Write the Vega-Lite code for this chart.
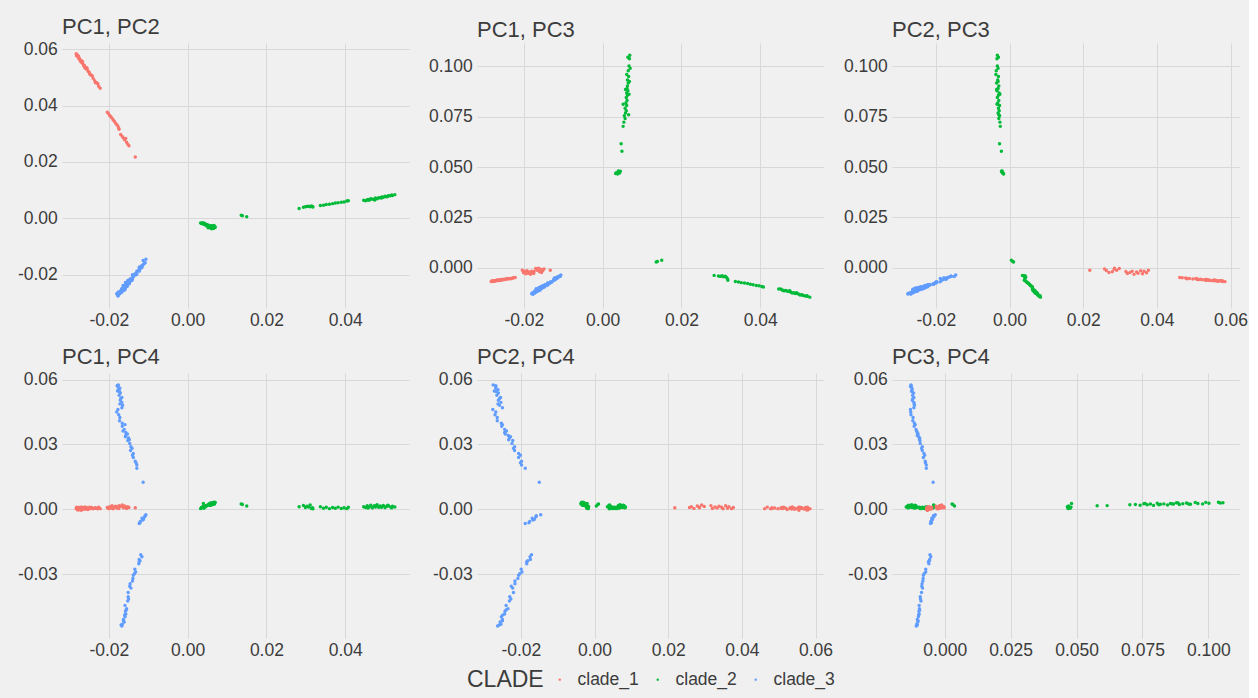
{
  "$schema": "https://vega.github.io/schema/vega-lite/v6.json",
  "background": "#F0F0F0",
  "padding": {"left": 17, "top": 15, "right": 1, "bottom": 8},
  "columns": 3,
  "spacing": {"row": 65, "column": 68},
  "bounds": "flush",
  "data": {
    "values": [
      {"CLADE": "clade_2", "PC1": 0.0033, "PC2": -0.0017, "PC3": 0.0468, "PC4": 0.0003},
      {"CLADE": "clade_2", "PC1": 0.0035, "PC2": -0.0019, "PC3": 0.0472, "PC4": 0.0008},
      {"CLADE": "clade_2", "PC1": 0.0038, "PC2": -0.0016, "PC3": 0.0465, "PC4": 0.0012},
      {"CLADE": "clade_2", "PC1": 0.0041, "PC2": -0.0021, "PC3": 0.0476, "PC4": 0.0005},
      {"CLADE": "clade_2", "PC1": 0.0043, "PC2": -0.0018, "PC3": 0.0470, "PC4": 0.0015},
      {"CLADE": "clade_2", "PC1": 0.0045, "PC2": -0.0022, "PC3": 0.0479, "PC4": 0.0010},
      {"CLADE": "clade_2", "PC1": 0.0040, "PC2": -0.0020, "PC3": 0.0481, "PC4": 0.0027},
      {"CLADE": "clade_2", "PC1": 0.0047, "PC2": -0.0027, "PC3": 0.0616, "PC4": 0.0017},
      {"CLADE": "clade_2", "PC1": 0.0049, "PC2": -0.0022, "PC3": 0.0578, "PC4": 0.0016},
      {"CLADE": "clade_2", "PC1": 0.0052, "PC2": -0.0025, "PC3": 0.0702, "PC4": 0.0021},
      {"CLADE": "clade_2", "PC1": 0.0054, "PC2": -0.0026, "PC3": 0.0723, "PC4": 0.0022},
      {"CLADE": "clade_2", "PC1": 0.0057, "PC2": -0.0029, "PC3": 0.0741, "PC4": 0.0019},
      {"CLADE": "clade_2", "PC1": 0.0055, "PC2": -0.0027, "PC3": 0.0755, "PC4": 0.0026},
      {"CLADE": "clade_2", "PC1": 0.0058, "PC2": -0.0031, "PC3": 0.0768, "PC4": 0.0021},
      {"CLADE": "clade_2", "PC1": 0.0060, "PC2": -0.0028, "PC3": 0.0780, "PC4": 0.0024},
      {"CLADE": "clade_2", "PC1": 0.0057, "PC2": -0.0030, "PC3": 0.0792, "PC4": 0.0018},
      {"CLADE": "clade_2", "PC1": 0.0061, "PC2": -0.0027, "PC3": 0.0806, "PC4": 0.0028},
      {"CLADE": "clade_2", "PC1": 0.0059, "PC2": -0.0032, "PC3": 0.0818, "PC4": 0.0023},
      {"CLADE": "clade_2", "PC1": 0.0062, "PC2": -0.0029, "PC3": 0.0831, "PC4": 0.0025},
      {"CLADE": "clade_2", "PC1": 0.0060, "PC2": -0.0033, "PC3": 0.0845, "PC4": 0.0020},
      {"CLADE": "clade_2", "PC1": 0.0063, "PC2": -0.0030, "PC3": 0.0856, "PC4": 0.0027},
      {"CLADE": "clade_2", "PC1": 0.0061, "PC2": -0.0028, "PC3": 0.0868, "PC4": 0.0024},
      {"CLADE": "clade_2", "PC1": 0.0064, "PC2": -0.0034, "PC3": 0.0879, "PC4": 0.0030},
      {"CLADE": "clade_2", "PC1": 0.0062, "PC2": -0.0031, "PC3": 0.0890, "PC4": 0.0022},
      {"CLADE": "clade_2", "PC1": 0.0063, "PC2": -0.0029, "PC3": 0.0903, "PC4": 0.0026},
      {"CLADE": "clade_2", "PC1": 0.0065, "PC2": -0.0035, "PC3": 0.0917, "PC4": 0.0029},
      {"CLADE": "clade_2", "PC1": 0.0063, "PC2": -0.0032, "PC3": 0.0932, "PC4": 0.0023},
      {"CLADE": "clade_2", "PC1": 0.0066, "PC2": -0.0030, "PC3": 0.0950, "PC4": 0.0031},
      {"CLADE": "clade_2", "PC1": 0.0065, "PC2": -0.0036, "PC3": 0.0978, "PC4": 0.0025},
      {"CLADE": "clade_2", "PC1": 0.0067, "PC2": -0.0033, "PC3": 0.1002, "PC4": 0.0028},
      {"CLADE": "clade_2", "PC1": 0.0068, "PC2": -0.0034, "PC3": 0.1038, "PC4": 0.0033},
      {"CLADE": "clade_2", "PC1": 0.0069, "PC2": -0.0033, "PC3": 0.1055, "PC4": 0.0030},
      {"CLADE": "clade_2", "PC1": 0.0066, "PC2": -0.0029, "PC3": 0.0760, "PC4": 0.0027},
      {"CLADE": "clade_2", "PC1": 0.0052, "PC2": -0.0034, "PC3": 0.0812, "PC4": 0.0021},
      {"CLADE": "clade_2", "PC1": 0.0067, "PC2": -0.0026, "PC3": 0.0862, "PC4": 0.0025},
      {"CLADE": "clade_2", "PC1": 0.0058, "PC2": -0.0035, "PC3": 0.0885, "PC4": 0.0029},
      {"CLADE": "clade_2", "PC1": 0.0068, "PC2": -0.0031, "PC3": 0.0925, "PC4": 0.0024},
      {"CLADE": "clade_2", "PC1": 0.0061, "PC2": -0.0037, "PC3": 0.0960, "PC4": 0.0027},
      {"CLADE": "clade_2", "PC1": 0.0070, "PC2": -0.0031, "PC3": 0.0990, "PC4": 0.0032},
      {"CLADE": "clade_2", "PC1": 0.0064, "PC2": -0.0030, "PC3": 0.1045, "PC4": 0.0029},
      {"CLADE": "clade_2", "PC1": 0.0136, "PC2": 0.0011, "PC3": 0.0028, "PC4": 0.0025},
      {"CLADE": "clade_2", "PC1": 0.0139, "PC2": 0.0009, "PC3": 0.0031, "PC4": 0.0022},
      {"CLADE": "clade_2", "PC1": 0.0150, "PC2": 0.0005, "PC3": 0.0037, "PC4": 0.0015},
      {"CLADE": "clade_2", "PC1": 0.0283, "PC2": 0.0035, "PC3": -0.0038, "PC4": 0.0012},
      {"CLADE": "clade_2", "PC1": 0.0294, "PC2": 0.0039, "PC3": -0.0041, "PC4": 0.0018},
      {"CLADE": "clade_2", "PC1": 0.0299, "PC2": 0.0041, "PC3": -0.0043, "PC4": 0.0008},
      {"CLADE": "clade_2", "PC1": 0.0303, "PC2": 0.0042, "PC3": -0.0040, "PC4": 0.0014},
      {"CLADE": "clade_2", "PC1": 0.0307, "PC2": 0.0043, "PC3": -0.0045, "PC4": 0.0010},
      {"CLADE": "clade_2", "PC1": 0.0311, "PC2": 0.0041, "PC3": -0.0042, "PC4": 0.0020},
      {"CLADE": "clade_2", "PC1": 0.0314, "PC2": 0.0044, "PC3": -0.0047, "PC4": 0.0004},
      {"CLADE": "clade_2", "PC1": 0.0317, "PC2": 0.0042, "PC3": -0.0055, "PC4": 0.0007},
      {"CLADE": "clade_2", "PC1": 0.0318, "PC2": 0.0040, "PC3": -0.0062, "PC4": 0.0002},
      {"CLADE": "clade_2", "PC1": 0.0337, "PC2": 0.0045, "PC3": -0.0068, "PC4": 0.0012},
      {"CLADE": "clade_2", "PC1": 0.0345, "PC2": 0.0046, "PC3": -0.0071, "PC4": 0.0005},
      {"CLADE": "clade_2", "PC1": 0.0352, "PC2": 0.0049, "PC3": -0.0074, "PC4": 0.0009},
      {"CLADE": "clade_2", "PC1": 0.0360, "PC2": 0.0050, "PC3": -0.0076, "PC4": 0.0003},
      {"CLADE": "clade_2", "PC1": 0.0368, "PC2": 0.0052, "PC3": -0.0078, "PC4": 0.0008},
      {"CLADE": "clade_2", "PC1": 0.0375, "PC2": 0.0054, "PC3": -0.0082, "PC4": 0.0005},
      {"CLADE": "clade_2", "PC1": 0.0382, "PC2": 0.0055, "PC3": -0.0085, "PC4": 0.0010},
      {"CLADE": "clade_2", "PC1": 0.0390, "PC2": 0.0057, "PC3": -0.0088, "PC4": 0.0004},
      {"CLADE": "clade_2", "PC1": 0.0397, "PC2": 0.0058, "PC3": -0.0090, "PC4": 0.0007},
      {"CLADE": "clade_2", "PC1": 0.0404, "PC2": 0.0061, "PC3": -0.0093, "PC4": 0.0003},
      {"CLADE": "clade_2", "PC1": 0.0408, "PC2": 0.0062, "PC3": -0.0096, "PC4": 0.0009},
      {"CLADE": "clade_2", "PC1": 0.0447, "PC2": 0.0064, "PC3": -0.0106, "PC4": 0.0012},
      {"CLADE": "clade_2", "PC1": 0.0452, "PC2": 0.0062, "PC3": -0.0106, "PC4": 0.0008},
      {"CLADE": "clade_2", "PC1": 0.0456, "PC2": 0.0065, "PC3": -0.0110, "PC4": 0.0016},
      {"CLADE": "clade_2", "PC1": 0.0461, "PC2": 0.0064, "PC3": -0.0114, "PC4": 0.0010},
      {"CLADE": "clade_2", "PC1": 0.0465, "PC2": 0.0069, "PC3": -0.0113, "PC4": 0.0019},
      {"CLADE": "clade_2", "PC1": 0.0469, "PC2": 0.0068, "PC3": -0.0117, "PC4": 0.0007},
      {"CLADE": "clade_2", "PC1": 0.0473, "PC2": 0.0068, "PC3": -0.0117, "PC4": 0.0014},
      {"CLADE": "clade_2", "PC1": 0.0477, "PC2": 0.0072, "PC3": -0.0121, "PC4": 0.0011},
      {"CLADE": "clade_2", "PC1": 0.0481, "PC2": 0.0069, "PC3": -0.0125, "PC4": 0.0021},
      {"CLADE": "clade_2", "PC1": 0.0485, "PC2": 0.0073, "PC3": -0.0124, "PC4": 0.0009},
      {"CLADE": "clade_2", "PC1": 0.0489, "PC2": 0.0073, "PC3": -0.0128, "PC4": 0.0015},
      {"CLADE": "clade_2", "PC1": 0.0493, "PC2": 0.0076, "PC3": -0.0127, "PC4": 0.0012},
      {"CLADE": "clade_2", "PC1": 0.0497, "PC2": 0.0075, "PC3": -0.0131, "PC4": 0.0018},
      {"CLADE": "clade_2", "PC1": 0.0501, "PC2": 0.0078, "PC3": -0.0135, "PC4": 0.0008},
      {"CLADE": "clade_2", "PC1": 0.0505, "PC2": 0.0076, "PC3": -0.0134, "PC4": 0.0013},
      {"CLADE": "clade_2", "PC1": 0.0510, "PC2": 0.0080, "PC3": -0.0138, "PC4": 0.0016},
      {"CLADE": "clade_2", "PC1": 0.0515, "PC2": 0.0080, "PC3": -0.0141, "PC4": 0.0010},
      {"CLADE": "clade_2", "PC1": 0.0520, "PC2": 0.0081, "PC3": -0.0142, "PC4": 0.0014},
      {"CLADE": "clade_2", "PC1": 0.0526, "PC2": 0.0084, "PC3": -0.0146, "PC4": 0.0011},
      {"CLADE": "clade_2", "PC1": 0.0458, "PC2": 0.0067, "PC3": -0.0113, "PC4": 0.0006},
      {"CLADE": "clade_2", "PC1": 0.0475, "PC2": 0.0065, "PC3": -0.0114, "PC4": 0.0017},
      {"CLADE": "clade_2", "PC1": 0.0492, "PC2": 0.0072, "PC3": -0.0124, "PC4": 0.0009},
      {"CLADE": "clade_2", "PC1": 0.0508, "PC2": 0.0078, "PC3": -0.0137, "PC4": 0.0019},
      {"CLADE": "clade_2", "PC1": 0.0518, "PC2": 0.0083, "PC3": -0.0139, "PC4": 0.0007},
      {"CLADE": "clade_1", "PC1": -0.0283, "PC2": 0.0585, "PC3": -0.0069, "PC4": 0.0003},
      {"CLADE": "clade_1", "PC1": -0.0281, "PC2": 0.0578, "PC3": -0.0066, "PC4": 0.0006},
      {"CLADE": "clade_1", "PC1": -0.0280, "PC2": 0.0580, "PC3": -0.0068, "PC4": -0.0002},
      {"CLADE": "clade_1", "PC1": -0.0278, "PC2": 0.0573, "PC3": -0.0065, "PC4": 0.0008},
      {"CLADE": "clade_1", "PC1": -0.0276, "PC2": 0.0567, "PC3": -0.0067, "PC4": 0.0004},
      {"CLADE": "clade_1", "PC1": -0.0275, "PC2": 0.0569, "PC3": -0.0064, "PC4": 0.0001},
      {"CLADE": "clade_1", "PC1": -0.0273, "PC2": 0.0562, "PC3": -0.0066, "PC4": 0.0007},
      {"CLADE": "clade_1", "PC1": -0.0271, "PC2": 0.0562, "PC3": -0.0063, "PC4": 0.0005},
      {"CLADE": "clade_1", "PC1": -0.0270, "PC2": 0.0555, "PC3": -0.0065, "PC4": -0.0004},
      {"CLADE": "clade_1", "PC1": -0.0268, "PC2": 0.0554, "PC3": -0.0062, "PC4": 0.0009},
      {"CLADE": "clade_1", "PC1": -0.0266, "PC2": 0.0549, "PC3": -0.0064, "PC4": 0.0002},
      {"CLADE": "clade_1", "PC1": -0.0264, "PC2": 0.0542, "PC3": -0.0061, "PC4": 0.0006},
      {"CLADE": "clade_1", "PC1": -0.0262, "PC2": 0.0543, "PC3": -0.0063, "PC4": 0.0000},
      {"CLADE": "clade_1", "PC1": -0.0260, "PC2": 0.0537, "PC3": -0.0060, "PC4": 0.0011},
      {"CLADE": "clade_1", "PC1": -0.0258, "PC2": 0.0531, "PC3": -0.0062, "PC4": 0.0004},
      {"CLADE": "clade_1", "PC1": -0.0255, "PC2": 0.0531, "PC3": -0.0059, "PC4": 0.0007},
      {"CLADE": "clade_1", "PC1": -0.0253, "PC2": 0.0523, "PC3": -0.0060, "PC4": -0.0001},
      {"CLADE": "clade_1", "PC1": -0.0250, "PC2": 0.0519, "PC3": -0.0057, "PC4": 0.0005},
      {"CLADE": "clade_1", "PC1": -0.0247, "PC2": 0.0510, "PC3": -0.0058, "PC4": 0.0003},
      {"CLADE": "clade_1", "PC1": -0.0244, "PC2": 0.0508, "PC3": -0.0055, "PC4": 0.0008},
      {"CLADE": "clade_1", "PC1": -0.0240, "PC2": 0.0498, "PC3": -0.0056, "PC4": 0.0002},
      {"CLADE": "clade_1", "PC1": -0.0236, "PC2": 0.0489, "PC3": -0.0053, "PC4": 0.0006},
      {"CLADE": "clade_1", "PC1": -0.0231, "PC2": 0.0482, "PC3": -0.0054, "PC4": 0.0004},
      {"CLADE": "clade_1", "PC1": -0.0226, "PC2": 0.0469, "PC3": -0.0050, "PC4": 0.0010},
      {"CLADE": "clade_1", "PC1": -0.0222, "PC2": 0.0462, "PC3": -0.0049, "PC4": 0.0003},
      {"CLADE": "clade_1", "PC1": -0.0282, "PC2": 0.0578, "PC3": -0.0067, "PC4": 0.0009},
      {"CLADE": "clade_1", "PC1": -0.0277, "PC2": 0.0576, "PC3": -0.0066, "PC4": -0.0003},
      {"CLADE": "clade_1", "PC1": -0.0272, "PC2": 0.0558, "PC3": -0.0064, "PC4": 0.0010},
      {"CLADE": "clade_1", "PC1": -0.0267, "PC2": 0.0557, "PC3": -0.0061, "PC4": 0.0003},
      {"CLADE": "clade_1", "PC1": -0.0261, "PC2": 0.0535, "PC3": -0.0062, "PC4": 0.0008},
      {"CLADE": "clade_1", "PC1": -0.0256, "PC2": 0.0535, "PC3": -0.0058, "PC4": 0.0001},
      {"CLADE": "clade_1", "PC1": -0.0249, "PC2": 0.0514, "PC3": -0.0058, "PC4": 0.0009},
      {"CLADE": "clade_1", "PC1": -0.0242, "PC2": 0.0506, "PC3": -0.0054, "PC4": 0.0005},
      {"CLADE": "clade_1", "PC1": -0.0234, "PC2": 0.0482, "PC3": -0.0055, "PC4": 0.0007},
      {"CLADE": "clade_1", "PC1": -0.0228, "PC2": 0.0478, "PC3": -0.0051, "PC4": 0.0002},
      {"CLADE": "clade_1", "PC1": -0.0204, "PC2": 0.0377, "PC3": -0.0012, "PC4": 0.0008},
      {"CLADE": "clade_1", "PC1": -0.0201, "PC2": 0.0372, "PC3": -0.0025, "PC4": 0.0003},
      {"CLADE": "clade_1", "PC1": -0.0198, "PC2": 0.0365, "PC3": -0.0018, "PC4": 0.0012},
      {"CLADE": "clade_1", "PC1": -0.0195, "PC2": 0.0361, "PC3": -0.0030, "PC4": 0.0005},
      {"CLADE": "clade_1", "PC1": -0.0192, "PC2": 0.0356, "PC3": -0.0015, "PC4": 0.0016},
      {"CLADE": "clade_1", "PC1": -0.0189, "PC2": 0.0349, "PC3": -0.0027, "PC4": 0.0002},
      {"CLADE": "clade_1", "PC1": -0.0186, "PC2": 0.0345, "PC3": -0.0021, "PC4": 0.0009},
      {"CLADE": "clade_1", "PC1": -0.0183, "PC2": 0.0338, "PC3": -0.0033, "PC4": 0.0014},
      {"CLADE": "clade_1", "PC1": -0.0180, "PC2": 0.0333, "PC3": -0.0017, "PC4": 0.0006},
      {"CLADE": "clade_1", "PC1": -0.0177, "PC2": 0.0327, "PC3": -0.0024, "PC4": 0.0011},
      {"CLADE": "clade_1", "PC1": -0.0175, "PC2": 0.0320, "PC3": -0.0029, "PC4": 0.0004},
      {"CLADE": "clade_1", "PC1": -0.0174, "PC2": 0.0316, "PC3": -0.0019, "PC4": 0.0017},
      {"CLADE": "clade_1", "PC1": -0.0170, "PC2": 0.0298, "PC3": -0.0004, "PC4": 0.0013},
      {"CLADE": "clade_1", "PC1": -0.0166, "PC2": 0.0291, "PC3": -0.0012, "PC4": 0.0020},
      {"CLADE": "clade_1", "PC1": -0.0163, "PC2": 0.0285, "PC3": -0.0002, "PC4": 0.0007},
      {"CLADE": "clade_1", "PC1": -0.0160, "PC2": 0.0279, "PC3": -0.0020, "PC4": 0.0015},
      {"CLADE": "clade_1", "PC1": -0.0157, "PC2": 0.0284, "PC3": -0.0008, "PC4": 0.0010},
      {"CLADE": "clade_1", "PC1": -0.0155, "PC2": 0.0270, "PC3": -0.0024, "PC4": 0.0004},
      {"CLADE": "clade_1", "PC1": -0.0152, "PC2": 0.0263, "PC3": -0.0014, "PC4": 0.0012},
      {"CLADE": "clade_1", "PC1": -0.0149, "PC2": 0.0258, "PC3": -0.0006, "PC4": 0.0008},
      {"CLADE": "clade_1", "PC1": -0.0133, "PC2": 0.0218, "PC3": -0.0013, "PC4": 0.0007},
      {"CLADE": "clade_3", "PC1": -0.0176, "PC2": -0.0275, "PC3": -0.0128, "PC4": 0.0576},
      {"CLADE": "clade_3", "PC1": -0.0177, "PC2": -0.0268, "PC3": -0.0130, "PC4": 0.0568},
      {"CLADE": "clade_3", "PC1": -0.0172, "PC2": -0.0268, "PC3": -0.0124, "PC4": 0.0560},
      {"CLADE": "clade_3", "PC1": -0.0176, "PC2": -0.0262, "PC3": -0.0124, "PC4": 0.0553},
      {"CLADE": "clade_3", "PC1": -0.0173, "PC2": -0.0267, "PC3": -0.0125, "PC4": 0.0545},
      {"CLADE": "clade_3", "PC1": -0.0171, "PC2": -0.0261, "PC3": -0.0118, "PC4": 0.0538},
      {"CLADE": "clade_3", "PC1": -0.0174, "PC2": -0.0265, "PC3": -0.0122, "PC4": 0.0528},
      {"CLADE": "clade_3", "PC1": -0.0167, "PC2": -0.0255, "PC3": -0.0117, "PC4": 0.0518},
      {"CLADE": "clade_3", "PC1": -0.0171, "PC2": -0.0261, "PC3": -0.0123, "PC4": 0.0505},
      {"CLADE": "clade_3", "PC1": -0.0167, "PC2": -0.0254, "PC3": -0.0117, "PC4": 0.0495},
      {"CLADE": "clade_3", "PC1": -0.0165, "PC2": -0.0258, "PC3": -0.0115, "PC4": 0.0482},
      {"CLADE": "clade_3", "PC1": -0.0167, "PC2": -0.0250, "PC3": -0.0117, "PC4": 0.0470},
      {"CLADE": "clade_3", "PC1": -0.0177, "PC2": -0.0276, "PC3": -0.0130, "PC4": 0.0462},
      {"CLADE": "clade_3", "PC1": -0.0180, "PC2": -0.0268, "PC3": -0.0129, "PC4": 0.0450},
      {"CLADE": "clade_3", "PC1": -0.0175, "PC2": -0.0270, "PC3": -0.0128, "PC4": 0.0438},
      {"CLADE": "clade_3", "PC1": -0.0172, "PC2": -0.0264, "PC3": -0.0120, "PC4": 0.0425},
      {"CLADE": "clade_3", "PC1": -0.0173, "PC2": -0.0264, "PC3": -0.0121, "PC4": 0.0410},
      {"CLADE": "clade_3", "PC1": -0.0166, "PC2": -0.0253, "PC3": -0.0115, "PC4": 0.0398},
      {"CLADE": "clade_3", "PC1": -0.0166, "PC2": -0.0252, "PC3": -0.0116, "PC4": 0.0384},
      {"CLADE": "clade_3", "PC1": -0.0161, "PC2": -0.0244, "PC3": -0.0109, "PC4": 0.0370},
      {"CLADE": "clade_3", "PC1": -0.0157, "PC2": -0.0244, "PC3": -0.0104, "PC4": 0.0356},
      {"CLADE": "clade_3", "PC1": -0.0157, "PC2": -0.0234, "PC3": -0.0104, "PC4": 0.0342},
      {"CLADE": "clade_3", "PC1": -0.0150, "PC2": -0.0231, "PC3": -0.0095, "PC4": 0.0330},
      {"CLADE": "clade_3", "PC1": -0.0152, "PC2": -0.0222, "PC3": -0.0094, "PC4": 0.0318},
      {"CLADE": "clade_3", "PC1": -0.0147, "PC2": -0.0224, "PC3": -0.0093, "PC4": 0.0305},
      {"CLADE": "clade_3", "PC1": -0.0144, "PC2": -0.0217, "PC3": -0.0085, "PC4": 0.0290},
      {"CLADE": "clade_3", "PC1": -0.0145, "PC2": -0.0217, "PC3": -0.0085, "PC4": 0.0272},
      {"CLADE": "clade_3", "PC1": -0.0138, "PC2": -0.0206, "PC3": -0.0079, "PC4": 0.0258},
      {"CLADE": "clade_3", "PC1": -0.0138, "PC2": -0.0206, "PC3": -0.0081, "PC4": 0.0240},
      {"CLADE": "clade_3", "PC1": -0.0133, "PC2": -0.0198, "PC3": -0.0074, "PC4": 0.0222},
      {"CLADE": "clade_3", "PC1": -0.0129, "PC2": -0.0198, "PC3": -0.0070, "PC4": 0.0205},
      {"CLADE": "clade_3", "PC1": -0.0129, "PC2": -0.0188, "PC3": -0.0070, "PC4": 0.0190},
      {"CLADE": "clade_3", "PC1": -0.0179, "PC2": -0.0268, "PC3": -0.0127, "PC4": 0.0572},
      {"CLADE": "clade_3", "PC1": -0.0178, "PC2": -0.0272, "PC3": -0.0126, "PC4": 0.0548},
      {"CLADE": "clade_3", "PC1": -0.0170, "PC2": -0.0258, "PC3": -0.0121, "PC4": 0.0512},
      {"CLADE": "clade_3", "PC1": -0.0172, "PC2": -0.0262, "PC3": -0.0116, "PC4": 0.0488},
      {"CLADE": "clade_3", "PC1": -0.0159, "PC2": -0.0250, "PC3": -0.0112, "PC4": 0.0392},
      {"CLADE": "clade_3", "PC1": -0.0164, "PC2": -0.0239, "PC3": -0.0107, "PC4": 0.0362},
      {"CLADE": "clade_3", "PC1": -0.0153, "PC2": -0.0242, "PC3": -0.0101, "PC4": 0.0349},
      {"CLADE": "clade_3", "PC1": -0.0158, "PC2": -0.0228, "PC3": -0.0099, "PC4": 0.0336},
      {"CLADE": "clade_3", "PC1": -0.0148, "PC2": -0.0233, "PC3": -0.0096, "PC4": 0.0322},
      {"CLADE": "clade_3", "PC1": -0.0141, "PC2": -0.0220, "PC3": -0.0088, "PC4": 0.0282},
      {"CLADE": "clade_3", "PC1": -0.0140, "PC2": -0.0201, "PC3": -0.0076, "PC4": 0.0250},
      {"CLADE": "clade_3", "PC1": -0.0131, "PC2": -0.0201, "PC3": -0.0073, "PC4": 0.0215},
      {"CLADE": "clade_3", "PC1": -0.0113, "PC2": -0.0150, "PC3": -0.0044, "PC4": 0.0125},
      {"CLADE": "clade_3", "PC1": -0.0106, "PC2": -0.0146, "PC3": -0.0036, "PC4": -0.0025},
      {"CLADE": "clade_3", "PC1": -0.0108, "PC2": -0.0158, "PC3": -0.0043, "PC4": -0.0030},
      {"CLADE": "clade_3", "PC1": -0.0109, "PC2": -0.0159, "PC3": -0.0041, "PC4": -0.0035},
      {"CLADE": "clade_3", "PC1": -0.0116, "PC2": -0.0169, "PC3": -0.0049, "PC4": -0.0042},
      {"CLADE": "clade_3", "PC1": -0.0114, "PC2": -0.0167, "PC3": -0.0049, "PC4": -0.0050},
      {"CLADE": "clade_3", "PC1": -0.0120, "PC2": -0.0176, "PC3": -0.0053, "PC4": -0.0056},
      {"CLADE": "clade_3", "PC1": -0.0121, "PC2": -0.0178, "PC3": -0.0050, "PC4": -0.0062},
      {"CLADE": "clade_3", "PC1": -0.0123, "PC2": -0.0188, "PC3": -0.0054, "PC4": -0.0066},
      {"CLADE": "clade_3", "PC1": -0.0112, "PC2": -0.0163, "PC3": -0.0046, "PC4": -0.0046},
      {"CLADE": "clade_3", "PC1": -0.0119, "PC2": -0.0171, "PC3": -0.0056, "PC4": -0.0210},
      {"CLADE": "clade_3", "PC1": -0.0116, "PC2": -0.0175, "PC3": -0.0053, "PC4": -0.0220},
      {"CLADE": "clade_3", "PC1": -0.0123, "PC2": -0.0174, "PC3": -0.0057, "PC4": -0.0232},
      {"CLADE": "clade_3", "PC1": -0.0121, "PC2": -0.0181, "PC3": -0.0058, "PC4": -0.0238},
      {"CLADE": "clade_3", "PC1": -0.0123, "PC2": -0.0184, "PC3": -0.0062, "PC4": -0.0243},
      {"CLADE": "clade_3", "PC1": -0.0124, "PC2": -0.0184, "PC3": -0.0060, "PC4": -0.0252},
      {"CLADE": "clade_3", "PC1": -0.0134, "PC2": -0.0199, "PC3": -0.0072, "PC4": -0.0278},
      {"CLADE": "clade_3", "PC1": -0.0132, "PC2": -0.0197, "PC3": -0.0072, "PC4": -0.0290},
      {"CLADE": "clade_3", "PC1": -0.0135, "PC2": -0.0203, "PC3": -0.0078, "PC4": -0.0298},
      {"CLADE": "clade_3", "PC1": -0.0138, "PC2": -0.0206, "PC3": -0.0081, "PC4": -0.0305},
      {"CLADE": "clade_3", "PC1": -0.0139, "PC2": -0.0208, "PC3": -0.0082, "PC4": -0.0320},
      {"CLADE": "clade_3", "PC1": -0.0140, "PC2": -0.0216, "PC3": -0.0083, "PC4": -0.0332},
      {"CLADE": "clade_3", "PC1": -0.0146, "PC2": -0.0216, "PC3": -0.0086, "PC4": -0.0345},
      {"CLADE": "clade_3", "PC1": -0.0147, "PC2": -0.0226, "PC3": -0.0087, "PC4": -0.0356},
      {"CLADE": "clade_3", "PC1": -0.0144, "PC2": -0.0222, "PC3": -0.0084, "PC4": -0.0365},
      {"CLADE": "clade_3", "PC1": -0.0151, "PC2": -0.0220, "PC3": -0.0088, "PC4": -0.0385},
      {"CLADE": "clade_3", "PC1": -0.0151, "PC2": -0.0230, "PC3": -0.0093, "PC4": -0.0405},
      {"CLADE": "clade_3", "PC1": -0.0150, "PC2": -0.0227, "PC3": -0.0092, "PC4": -0.0415},
      {"CLADE": "clade_3", "PC1": -0.0152, "PC2": -0.0231, "PC3": -0.0090, "PC4": -0.0425},
      {"CLADE": "clade_3", "PC1": -0.0159, "PC2": -0.0240, "PC3": -0.0097, "PC4": -0.0445},
      {"CLADE": "clade_3", "PC1": -0.0155, "PC2": -0.0235, "PC3": -0.0096, "PC4": -0.0460},
      {"CLADE": "clade_3", "PC1": -0.0156, "PC2": -0.0240, "PC3": -0.0095, "PC4": -0.0466},
      {"CLADE": "clade_3", "PC1": -0.0158, "PC2": -0.0243, "PC3": -0.0098, "PC4": -0.0472},
      {"CLADE": "clade_3", "PC1": -0.0157, "PC2": -0.0244, "PC3": -0.0097, "PC4": -0.0485},
      {"CLADE": "clade_3", "PC1": -0.0160, "PC2": -0.0249, "PC3": -0.0099, "PC4": -0.0490},
      {"CLADE": "clade_3", "PC1": -0.0159, "PC2": -0.0253, "PC3": -0.0100, "PC4": -0.0498},
      {"CLADE": "clade_3", "PC1": -0.0163, "PC2": -0.0250, "PC3": -0.0104, "PC4": -0.0510},
      {"CLADE": "clade_3", "PC1": -0.0163, "PC2": -0.0250, "PC3": -0.0101, "PC4": -0.0516},
      {"CLADE": "clade_3", "PC1": -0.0161, "PC2": -0.0256, "PC3": -0.0102, "PC4": -0.0522},
      {"CLADE": "clade_3", "PC1": -0.0166, "PC2": -0.0254, "PC3": -0.0106, "PC4": -0.0532},
      {"CLADE": "clade_3", "PC1": -0.0169, "PC2": -0.0259, "PC3": -0.0104, "PC4": -0.0536},
      {"CLADE": "clade_3", "PC1": -0.0167, "PC2": -0.0263, "PC3": -0.0108, "PC4": -0.0540}
    ]
  },
  "concat": [
    {
      "width": 347, "height": 265,
      "title": "PC1, PC2",
      "mark": {"type": "circle", "size": 12, "opacity": 1},
      "encoding": {
        "x": {"field": "PC1", "type": "quantitative", "title": null,
              "scale": {"domain": [-0.0319, 0.0562], "nice": false, "zero": false},
              "axis": {"values": [-0.02, 0, 0.02, 0.04], "labelExpr": "replace(format(datum.value, '.2f'), '\u2212', '-')"}},
        "y": {"field": "PC2", "type": "quantitative", "title": null,
              "scale": {"domain": [-0.0319, 0.0623], "nice": false, "zero": false},
              "axis": {"values": [-0.02, 0, 0.02, 0.04, 0.06], "labelExpr": "replace(format(datum.value, '.2f'), '\u2212', '-')"}},
        "color": {"field": "CLADE", "type": "nominal", "title": "CLADE",
                  "scale": {"domain": ["clade_1", "clade_2", "clade_3"], "range": ["#F8766D", "#00BA38", "#619CFF"]}}
      }
    },
    {
      "width": 347, "height": 265,
      "title": "PC1, PC3",
      "mark": {"type": "circle", "size": 12, "opacity": 1},
      "encoding": {
        "x": {"field": "PC1", "type": "quantitative", "title": null,
              "scale": {"domain": [-0.0319, 0.0562], "nice": false, "zero": false},
              "axis": {"values": [-0.02, 0, 0.02, 0.04], "labelExpr": "replace(format(datum.value, '.2f'), '\u2212', '-')"}},
        "y": {"field": "PC3", "type": "quantitative", "title": null,
              "scale": {"domain": [-0.0200, 0.1116], "nice": false, "zero": false},
              "axis": {"values": [0, 0.025, 0.05, 0.075, 0.1], "labelExpr": "replace(format(datum.value, '.3f'), '\u2212', '-')"}},
        "color": {"field": "CLADE", "type": "nominal", "title": "CLADE",
                  "scale": {"domain": ["clade_1", "clade_2", "clade_3"], "range": ["#F8766D", "#00BA38", "#619CFF"]}}
      }
    },
    {
      "width": 347, "height": 265,
      "title": "PC2, PC3",
      "mark": {"type": "circle", "size": 12, "opacity": 1},
      "encoding": {
        "x": {"field": "PC2", "type": "quantitative", "title": null,
              "scale": {"domain": [-0.0319, 0.0623], "nice": false, "zero": false},
              "axis": {"values": [-0.02, 0, 0.02, 0.04, 0.06], "labelExpr": "replace(format(datum.value, '.2f'), '\u2212', '-')"}},
        "y": {"field": "PC3", "type": "quantitative", "title": null,
              "scale": {"domain": [-0.0200, 0.1116], "nice": false, "zero": false},
              "axis": {"values": [0, 0.025, 0.05, 0.075, 0.1], "labelExpr": "replace(format(datum.value, '.3f'), '\u2212', '-')"}},
        "color": {"field": "CLADE", "type": "nominal", "title": "CLADE",
                  "scale": {"domain": ["clade_1", "clade_2", "clade_3"], "range": ["#F8766D", "#00BA38", "#619CFF"]}}
      }
    },
    {
      "width": 347, "height": 265,
      "title": "PC1, PC4",
      "mark": {"type": "circle", "size": 12, "opacity": 1},
      "encoding": {
        "x": {"field": "PC1", "type": "quantitative", "title": null,
              "scale": {"domain": [-0.0319, 0.0562], "nice": false, "zero": false},
              "axis": {"values": [-0.02, 0, 0.02, 0.04], "labelExpr": "replace(format(datum.value, '.2f'), '\u2212', '-')"}},
        "y": {"field": "PC4", "type": "quantitative", "title": null,
              "scale": {"domain": [-0.0596, 0.0631], "nice": false, "zero": false},
              "axis": {"values": [-0.03, 0, 0.03, 0.06], "labelExpr": "replace(format(datum.value, '.2f'), '\u2212', '-')"}},
        "color": {"field": "CLADE", "type": "nominal", "title": "CLADE",
                  "scale": {"domain": ["clade_1", "clade_2", "clade_3"], "range": ["#F8766D", "#00BA38", "#619CFF"]}}
      }
    },
    {
      "width": 347, "height": 265,
      "title": "PC2, PC4",
      "mark": {"type": "circle", "size": 12, "opacity": 1},
      "encoding": {
        "x": {"field": "PC2", "type": "quantitative", "title": null,
              "scale": {"domain": [-0.0319, 0.0623], "nice": false, "zero": false},
              "axis": {"values": [-0.02, 0, 0.02, 0.04, 0.06], "labelExpr": "replace(format(datum.value, '.2f'), '\u2212', '-')"}},
        "y": {"field": "PC4", "type": "quantitative", "title": null,
              "scale": {"domain": [-0.0596, 0.0631], "nice": false, "zero": false},
              "axis": {"values": [-0.03, 0, 0.03, 0.06], "labelExpr": "replace(format(datum.value, '.2f'), '\u2212', '-')"}},
        "color": {"field": "CLADE", "type": "nominal", "title": "CLADE",
                  "scale": {"domain": ["clade_1", "clade_2", "clade_3"], "range": ["#F8766D", "#00BA38", "#619CFF"]}}
      }
    },
    {
      "width": 347, "height": 265,
      "title": "PC3, PC4",
      "mark": {"type": "circle", "size": 12, "opacity": 1},
      "encoding": {
        "x": {"field": "PC3", "type": "quantitative", "title": null,
              "scale": {"domain": [-0.0200, 0.1116], "nice": false, "zero": false},
              "axis": {"values": [0, 0.025, 0.05, 0.075, 0.1], "labelExpr": "replace(format(datum.value, '.3f'), '\u2212', '-')"}},
        "y": {"field": "PC4", "type": "quantitative", "title": null,
              "scale": {"domain": [-0.0596, 0.0631], "nice": false, "zero": false},
              "axis": {"values": [-0.03, 0, 0.03, 0.06], "labelExpr": "replace(format(datum.value, '.2f'), '\u2212', '-')"}},
        "color": {"field": "CLADE", "type": "nominal", "title": "CLADE",
                  "scale": {"domain": ["clade_1", "clade_2", "clade_3"], "range": ["#F8766D", "#00BA38", "#619CFF"]}}
      }
    }
  ],
  "config": {
    "font": "Liberation Sans",
    "view": {"stroke": null},
    "axis": {
      "domain": false,
      "ticks": false,
      "grid": true,
      "gridColor": "#D8D8D8",
      "gridWidth": 1,
      "labelFont": "Liberation Sans",
      "labelFontSize": 17.5,
      "labelColor": "#3C3C3C",
      "labelFlush": false,
      "labelOverlap": false
    },
    "axisX": {"labelPadding": 3.5},
    "axisY": {"labelPadding": 4.7},
    "title": {
      "anchor": "start",
      "frame": "group",
      "font": "Liberation Sans",
      "fontSize": 22,
      "fontWeight": "normal",
      "color": "#3C3C3C",
      "baseline": "alphabetic",
      "offset": 1.5
    },
    "legend": {
      "orient": "none",
      "legendX": 405,
      "legendY": 627.5,
      "direction": "horizontal",
      "titleOrient": "left",
      "titleFont": "Liberation Sans",
      "titleFontSize": 23,
      "titleFontWeight": "normal",
      "titleColor": "#3C3C3C",
      "titlePadding": 7,
      "labelFont": "Liberation Sans",
      "labelFontSize": 17.5,
      "labelColor": "#3C3C3C",
      "labelOffset": 9,
      "columnPadding": 10,
      "symbolType": "circle",
      "symbolSize": 6,
      "padding": 0
    }
  }
}
